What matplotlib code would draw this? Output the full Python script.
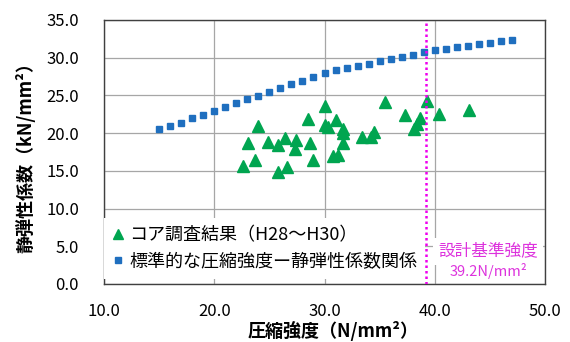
import numpy as np
import matplotlib
matplotlib.use("Agg")
import matplotlib.pyplot as plt

plt.rcParams['font.family'] = ['Noto Sans CJK JP', 'DejaVu Sans']

# 標準的な圧縮強度－静弾性係数関係（読み取り値）
std_fc = [15, 16, 17, 18, 19, 20, 21, 22, 23, 24, 25, 26, 27, 28, 29, 30, 31,
          32, 33, 34, 35, 36, 37, 38, 39, 40, 41, 42, 43, 44, 45, 46, 47]
std_e = [20.5, 20.95, 21.4, 22.0, 22.45, 22.95, 23.5, 24.0, 24.5, 24.95, 25.45,
         26.0, 26.5, 26.95, 27.45, 27.95, 28.35, 28.6, 28.9, 29.15, 29.5, 29.8,
         30.1, 30.35, 30.7, 31.0, 31.15, 31.4, 31.6, 31.8, 32.0, 32.15, 32.35]

# コア調査結果（H28〜H30）
core_fc = [24.0, 23.1, 24.9, 26.4, 25.8, 27.4, 27.3, 28.7, 28.5, 23.7, 22.6,
           25.8, 26.6, 29.0, 30.0, 31.0, 30.0, 30.3, 31.7, 31.7, 31.7, 30.8,
           31.2, 33.4, 34.2, 34.5, 35.5, 37.3, 38.7, 38.4, 38.1, 39.3, 40.4, 43.1]
core_e = [21.0, 18.65, 18.8, 19.3, 18.4, 19.1, 17.9, 18.75, 21.9, 16.5, 15.6,
          14.8, 15.5, 16.4, 23.6, 21.8, 21.1, 20.85, 20.6, 20.0, 18.65, 17.0,
          17.1, 19.45, 19.5, 20.1, 24.1, 22.4, 22.0, 21.2, 20.6, 24.2, 22.6, 23.1]

design_fc = 39.2

xticks = [10, 20, 30, 40, 50]
yticks = [0, 5, 10, 15, 20, 25, 30, 35]

fig = plt.figure(figsize=(5.7, 3.42), dpi=100)
ax = fig.add_axes([104 / 570, 1 - 284 / 342, 441 / 570, 264 / 342])

ax.plot(core_fc, core_e, linestyle='none', marker='^', ms=8, color='#00A550',
        label='コア調査結果（H28〜H30）', zorder=3)
ax.plot(std_fc, std_e, linestyle='none', marker='s', ms=4.8, color='#1F6FBF',
        label='標準的な圧縮強度ー静弾性係数関係', zorder=3)

ax.axvline(design_fc, color='#EE00EE', linestyle=(0, (1, 1.2)), lw=1.8, zorder=6)

ax.set_xlim(10, 50)
ax.set_ylim(0, 35)
ax.set_xticks(xticks)
ax.set_yticks(yticks)
ax.set_xticklabels([f'{v:.1f}' for v in xticks], fontsize=12)
ax.set_yticklabels([f'{v:.1f}' for v in yticks], fontsize=12)
ax.tick_params(length=0)
ax.tick_params(axis='x', pad=14)
ax.tick_params(axis='y', pad=18)
ax.grid(True, color='#A6A6A6', lw=0.9)
ax.set_axisbelow(True)
for s in ax.spines.values():
    s.set_color('#404040')
    s.set_linewidth(1.0)

fig.text(25 / 570, 1 - 153 / 342, '静弾性係数（kN/mm²）', rotation=90,
         ha='center', va='center', fontsize=13, fontweight='bold')
fig.text(333 / 570, 1 - 331 / 342, '圧縮強度（N/mm²）',
         ha='center', va='center', fontsize=13, fontweight='bold')

leg = ax.legend(loc='lower left', bbox_to_anchor=(0.0, 0.02), borderaxespad=0,
                fontsize=13, frameon=True, fancybox=False, framealpha=1,
                facecolor='white', edgecolor='none', borderpad=0.45,
                handlelength=0.7, handletextpad=0.25, labelspacing=0.45,
                markerscale=0.85)
leg.set_zorder(4)

# 設計基準強度の注記
box = dict(boxstyle='square,pad=0.3', fc='white', ec='none')
ax.text(0.871, 0.125, '設計基準強度', transform=ax.transAxes,
        ha='center', va='center', fontsize=12, color='#DD33DD', bbox=box, zorder=5)
ax.text(0.871, 0.05, '39.2N/mm²', transform=ax.transAxes,
        ha='center', va='center', fontsize=10.5, color='#DD33DD', bbox=box, zorder=5)

fig.savefig('out.png', dpi=100)
